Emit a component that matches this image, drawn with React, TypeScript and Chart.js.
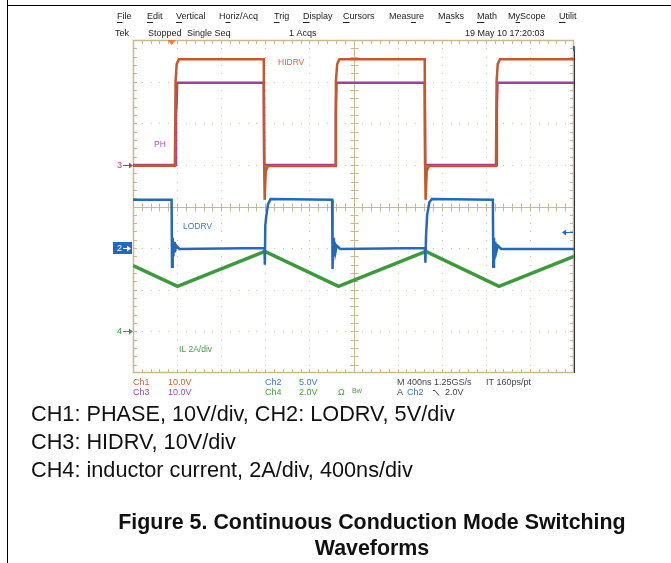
import React, { useEffect, useRef } from "react";
import { Chart, registerables } from "chart.js";

Chart.register(...registerables);

// ---- data (x in divisions 0..10, y in divisions 0..8 from bottom) ----
const phX = [0, 0.96, 0.975, 0.99, 1.0, 2.965, 2.975, 4.585, 4.6, 4.615, 6.615, 6.625, 8.235, 8.25, 8.265, 10];
const phY = [5.0, 5.0, 6.2, 6.5, 6.97, 6.97, 5.0, 5.0, 6.3, 6.97, 6.97, 5.0, 5.0, 6.3, 6.97, 6.97];

const hidrvX = [0, 0.95, 0.965, 0.99, 1.04, 2.965, 2.975, 2.985, 3.01, 3.06, 4.585, 4.6, 4.63, 4.68, 6.615, 6.625, 6.635, 6.66, 6.71, 8.23, 8.245, 8.27, 8.32, 10];
const hidrvY = [4.98, 4.98, 7.0, 7.42, 7.54, 7.54, 5.0, 4.16, 4.85, 4.97, 4.97, 7.0, 7.42, 7.54, 7.54, 5.0, 4.16, 4.85, 4.97, 4.97, 7.0, 7.42, 7.54, 7.54];

const lodrvX = [0, 0.875, 0.885, 0.9, 0.915, 0.93, 0.95, 0.98, 1.05, 2.98, 2.99, 3.0, 3.02, 3.06, 3.12, 4.515, 4.525, 4.54, 4.555, 4.57, 4.59, 4.62, 4.7, 6.62, 6.63, 6.645, 6.67, 6.72, 6.78, 8.16, 8.17, 8.185, 8.2, 8.215, 8.235, 8.27, 8.35, 10];
const lodrvY = [4.16, 4.16, 2.55, 3.25, 2.8, 3.15, 2.9, 3.06, 2.98, 3.0, 2.6, 3.55, 3.75, 4.05, 4.18, 4.16, 2.5, 3.25, 2.8, 3.15, 2.9, 3.06, 2.98, 3.0, 2.65, 3.3, 3.8, 4.1, 4.18, 4.16, 2.55, 3.25, 2.8, 3.15, 2.9, 3.06, 2.98, 2.98];

const ilX = [0, 1.01, 2.99, 4.66, 6.64, 8.3, 10];
const ilY = [2.58, 2.08, 2.92, 2.08, 2.92, 2.08, 2.8];

const menuItems = ["File", "Edit", "Vertical", "Horiz/Acq", "Trig", "Display", "Cursors", "Measure", "Masks", "Math", "MyScope", "Utilit"];
const menuX = [117, 147, 176, 219, 274, 303, 343, 389, 438, 477, 508, 559];
const menuUnderline = [0, 0, 0, 1, 0, 0, 0, 4, 1, 0, 1, 0];

const captionLines = [
  "CH1: PHASE, 10V/div, CH2: LODRV, 5V/div",
  "CH3: HIDRV, 10V/div",
  "CH4: inductor current, 2A/div, 400ns/div",
];
const titleLines = ["Figure 5. Continuous Conduction Mode Switching", "Waveforms"];

const ORANGE = "#c45a2c";
const PURPLE = "#a13ea3";
const BLUE = "#2468bd";
const GREEN = "#3c9a3c";
const GRID = "#c9b98e";
const DOT = "#cfc3a0";

const pts = (xs: number[], ys: number[]) => xs.map((x, i) => ({ x, y: ys[i] }));

const FONT = '"Liberation Sans", Arial, sans-serif';

function arrow(ctx: CanvasRenderingContext2D, x1: number, x2: number, y: number, color: string) {
  ctx.strokeStyle = color;
  ctx.fillStyle = color;
  ctx.lineWidth = 1;
  ctx.beginPath();
  ctx.moveTo(x1, y + 0.5);
  ctx.lineTo(x2 - 2, y + 0.5);
  ctx.stroke();
  ctx.beginPath();
  ctx.moveTo(x2, y + 0.5);
  ctx.lineTo(x2 - 4, y - 2.5);
  ctx.lineTo(x2 - 4, y + 3.5);
  ctx.closePath();
  ctx.fill();
}

const scopePlugin = {
  id: "scope",
  beforeDatasetsDraw(chart: any) {
    const { ctx, chartArea, scales } = chart;
    const { left, right, top, bottom } = chartArea;
    const xs = scales.x;
    const ys = scales.y;
    ctx.save();
    // dotted grid
    ctx.fillStyle = DOT;
    for (let i = 1; i < 10; i++) {
      if (i === 5) continue;
      const px = Math.round(xs.getPixelForValue(i));
      for (let j = 1; j < 40; j++) {
        const py = Math.round(ys.getPixelForValue(j / 5));
        ctx.fillRect(px, py, 1, 1);
      }
    }
    for (let j = 1; j < 8; j++) {
      if (j === 4) continue;
      const py = Math.round(ys.getPixelForValue(j));
      for (let i = 1; i < 50; i++) {
        const px = Math.round(xs.getPixelForValue(i / 5));
        ctx.fillRect(px, py, 1, 1);
      }
    }
    ctx.strokeStyle = GRID;
    ctx.lineWidth = 1;
    // center lines
    const cx = Math.round(xs.getPixelForValue(5)) + 0.5;
    const cy = Math.round(ys.getPixelForValue(4)) + 0.5;
    ctx.beginPath();
    ctx.moveTo(cx, top);
    ctx.lineTo(cx, bottom);
    ctx.moveTo(left, cy);
    ctx.lineTo(right, cy);
    // ticks on center lines and border
    for (let i = 1; i < 50; i++) {
      const px = Math.round(xs.getPixelForValue(i / 5)) + 0.5;
      ctx.moveTo(px, cy - 4);
      ctx.lineTo(px, cy + 4);
      ctx.moveTo(px, top);
      ctx.lineTo(px, top + 4);
      ctx.moveTo(px, bottom);
      ctx.lineTo(px, bottom - 4);
    }
    for (let j = 1; j < 40; j++) {
      const py = Math.round(ys.getPixelForValue(j / 5)) + 0.5;
      ctx.moveTo(cx - 4, py);
      ctx.lineTo(cx + 4, py);
      ctx.moveTo(left, py);
      ctx.lineTo(left + 4, py);
      ctx.moveTo(right, py);
      ctx.lineTo(right - 4, py);
    }
    ctx.stroke();
    ctx.lineWidth = 1.5;
    ctx.strokeRect(left + 0.5, top + 0.5, right - left - 1, bottom - top - 1);
    ctx.restore();
  },
  afterDraw(chart: any) {
    const { ctx, chartArea } = chart;
    const { left, bottom } = chartArea;
    ctx.save();
    // document frame
    ctx.fillStyle = "#000";
    ctx.fillRect(7, 0, 1, 563);
    ctx.fillRect(7, 5, 664, 1);

    // menu bar
    ctx.font = "9px " + FONT;
    ctx.textBaseline = "middle";
    ctx.textAlign = "left";
    ctx.fillStyle = "#222";
    menuItems.forEach((t, i) => {
      ctx.fillText(t, menuX[i], 17);
      const u = menuUnderline[i];
      const x0 = menuX[i] + ctx.measureText(t.slice(0, u)).width;
      const w = ctx.measureText(t[u]).width;
      ctx.fillRect(x0, 22, w, 1);
    });
    ctx.fillText("Tek", 115, 34);
    ctx.fillText("Stopped", 148, 34);
    ctx.fillText("Single Seq", 187, 34);
    ctx.fillText("1 Acqs", 289, 34);
    ctx.fillText("19 May 10 17:20:03", 465, 34);

    // trigger position marker
    ctx.fillStyle = "#f07a30";
    ctx.beginPath();
    ctx.moveTo(167.5, 40);
    ctx.lineTo(176, 40);
    ctx.lineTo(171.7, 45);
    ctx.closePath();
    ctx.fill();

    // right edge marks
    ctx.fillStyle = BLUE;
    ctx.fillRect(573, 46, 2, 5);
    ctx.fillStyle = "#333";
    ctx.fillRect(574, 51, 1, bottom - 51);

    // channel labels in graticule
    ctx.font = "8.5px " + FONT;
    ctx.fillStyle = "#d0683a";
    ctx.fillText("HIDRV", 278, 63);
    ctx.fillStyle = "#b04cb0";
    ctx.fillText("PH", 154, 145);
    ctx.fillStyle = "#3a78c8";
    ctx.fillText("LODRV", 183, 227);
    ctx.fillStyle = "#44a244";
    ctx.fillText("IL 2A/div", 179, 350);

    // ground markers
    ctx.font = "9px " + FONT;
    ctx.fillStyle = "#b03a7a";
    ctx.fillText("3", 117, 166);
    arrow(ctx, 123, left, 165, "#b03a7a");
    ctx.fillStyle = GREEN;
    ctx.fillText("4", 117, 332);
    arrow(ctx, 123, left, 331, GREEN);
    ctx.fillStyle = BLUE;
    ctx.fillRect(113, 242, 19, 12);
    ctx.fillStyle = "#fff";
    ctx.fillText("2", 117, 248.5);
    arrow(ctx, 123, 131, 248, "#fff");
    // off-screen reference arrow (right)
    ctx.strokeStyle = BLUE;
    ctx.fillStyle = BLUE;
    ctx.beginPath();
    ctx.moveTo(566, 232.5);
    ctx.lineTo(573, 232.5);
    ctx.stroke();
    ctx.beginPath();
    ctx.moveTo(562, 232.5);
    ctx.lineTo(566, 229.5);
    ctx.lineTo(566, 235.5);
    ctx.closePath();
    ctx.fill();

    // bottom readout
    ctx.font = "9px " + FONT;
    const r1 = 383, r2 = 393;
    ctx.fillStyle = "#c8643c";
    ctx.fillText("Ch1", 133, r1);
    ctx.fillText("10.0V", 168, r1);
    ctx.fillStyle = "#a84aa8";
    ctx.fillText("Ch3", 133, r2);
    ctx.fillText("10.0V", 168, r2);
    ctx.fillStyle = "#3a78c8";
    ctx.fillText("Ch2", 265, r1);
    ctx.fillText("5.0V", 299, r1);
    ctx.fillStyle = "#44a244";
    ctx.fillText("Ch4", 265, r2);
    ctx.fillText("2.0V", 299, r2);
    ctx.fillText("\u03A9", 338, r2);
    ctx.font = "7px " + FONT;
    ctx.fillText("Bw", 352, r2 - 1.5);
    ctx.font = "9px " + FONT;
    ctx.fillStyle = "#444";
    ctx.fillText("M 400ns 1.25GS/s", 397, r1);
    ctx.fillText("IT 160ps/pt", 486, r1);
    ctx.fillText("A", 397, r2);
    ctx.fillStyle = "#3a78c8";
    ctx.fillText("Ch2", 407, r2);
    ctx.strokeStyle = "#444";
    ctx.lineWidth = 1;
    ctx.beginPath();
    ctx.moveTo(433, r2 - 2.5);
    ctx.lineTo(435, r2 - 2.5);
    ctx.lineTo(439, r2 + 2.5);
    ctx.stroke();
    ctx.fillStyle = "#444";
    ctx.fillText("2.0V", 445, r2);
    ctx.restore();
  },
};

export default function App() {
  const ref = useRef<HTMLCanvasElement>(null);
  useEffect(() => {
    if (!ref.current) return;
    const chart = new Chart(ref.current, {
      type: "line",
      data: {
        datasets: [
          { label: "LODRV", data: pts(lodrvX, lodrvY), borderColor: BLUE, borderWidth: 2.5, order: 0 },
          { label: "HIDRV", data: pts(hidrvX, hidrvY), borderColor: ORANGE, borderWidth: 2.5, order: 1 },
          { label: "PH", data: pts(phX, phY), borderColor: PURPLE, borderWidth: 2.5, order: 2 },
          { label: "IL", data: pts(ilX, ilY), borderColor: GREEN, borderWidth: 3.5, order: 3 },
        ],
      },
      options: {
        responsive: false,
        animation: false,
        devicePixelRatio: 1,
        events: [],
        layout: { padding: { left: 133, right: 97, top: 40, bottom: 190 } },
        elements: { point: { radius: 0 }, line: { tension: 0 } },
        plugins: { legend: { display: false }, tooltip: { enabled: false } },
        scales: {
          x: { type: "linear", min: 0, max: 10, display: false },
          y: { type: "linear", min: 0, max: 8, display: false },
        },
      },
      plugins: [scopePlugin],
    });
    return () => chart.destroy();
  }, []);

  const capStyle: React.CSSProperties = {
    position: "absolute",
    left: 31,
    font: '21.7px "Liberation Sans", Arial, sans-serif',
    lineHeight: "28px",
    color: "#111",
    whiteSpace: "nowrap",
  };
  const titleStyle: React.CSSProperties = {
    position: "absolute",
    left: 0,
    width: 744,
    textAlign: "center",
    font: 'bold 21.4px "Liberation Sans", Arial, sans-serif',
    lineHeight: "26px",
    color: "#111",
    whiteSpace: "nowrap",
  };

  return (
    <div style={{ position: "absolute", left: 0, top: 0, width: 671, height: 563, background: "#fff", overflow: "hidden" }}>
      <canvas ref={ref} width={671} height={563} style={{ position: "absolute", left: 0, top: 0, width: 671, height: 563 }} />
      {captionLines.map((t, i) => (
        <div key={i} style={{ ...capStyle, top: 400 + i * 28 }}>{t}</div>
      ))}
      {titleLines.map((t, i) => (
        <div key={"t" + i} style={{ ...titleStyle, top: 509 + i * 26 }}>{t}</div>
      ))}
    </div>
  );
}
